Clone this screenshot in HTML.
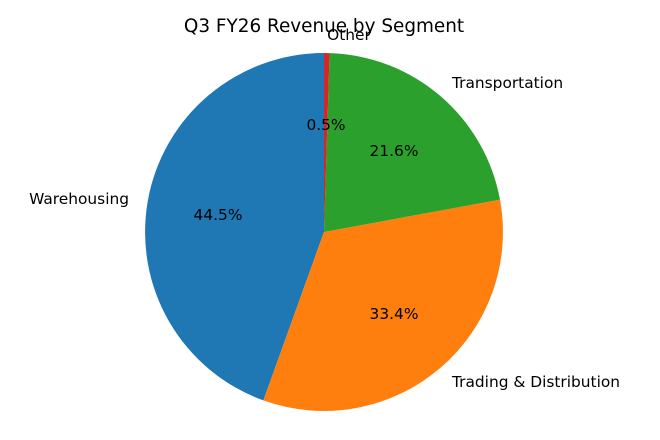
<!DOCTYPE html>
<html><head><meta charset="utf-8"><style>
html,body{margin:0;padding:0;background:#fff;}
svg{display:block;font-family:"DejaVu Sans","Liberation Sans",sans-serif;}
</style></head><body>
<svg width="660" height="440" viewBox="0 0 660 440" xmlns="http://www.w3.org/2000/svg">
<rect width="660" height="440" fill="#fff"/>
<text x="324" y="32" font-size="18.4" text-anchor="middle" fill="#000">Q3 FY26 Revenue by Segment</text>
<path d="M324,232 L324,53 A179,179 0 0 0 263.4,400.4 Z" fill="#1f77b4"/>
<path d="M324,232 L263.4,400.4 A179,179 0 0 0 500,199.6 Z" fill="#ff7f0e"/>
<path d="M324,232 L500,199.6 A179,179 0 0 0 329.6,53.1 Z" fill="#2ca02c"/>
<path d="M324,232 L329.6,53.1 A179,179 0 0 0 324,53 Z" fill="#d62728"/>
<g font-size="15.4" fill="#000">
<text x="349" y="40" text-anchor="middle">Other</text>
<text x="452" y="88">Transportation</text>
<text x="129" y="204" text-anchor="end">Warehousing</text>
<text x="452" y="387">Trading &amp; Distribution</text>
<text x="326" y="130" text-anchor="middle">0.5%</text>
<text x="394" y="156" text-anchor="middle">21.6%</text>
<text x="218" y="220" text-anchor="middle">44.5%</text>
<text x="394" y="319" text-anchor="middle">33.4%</text>
</g>
</svg>
</body></html>
